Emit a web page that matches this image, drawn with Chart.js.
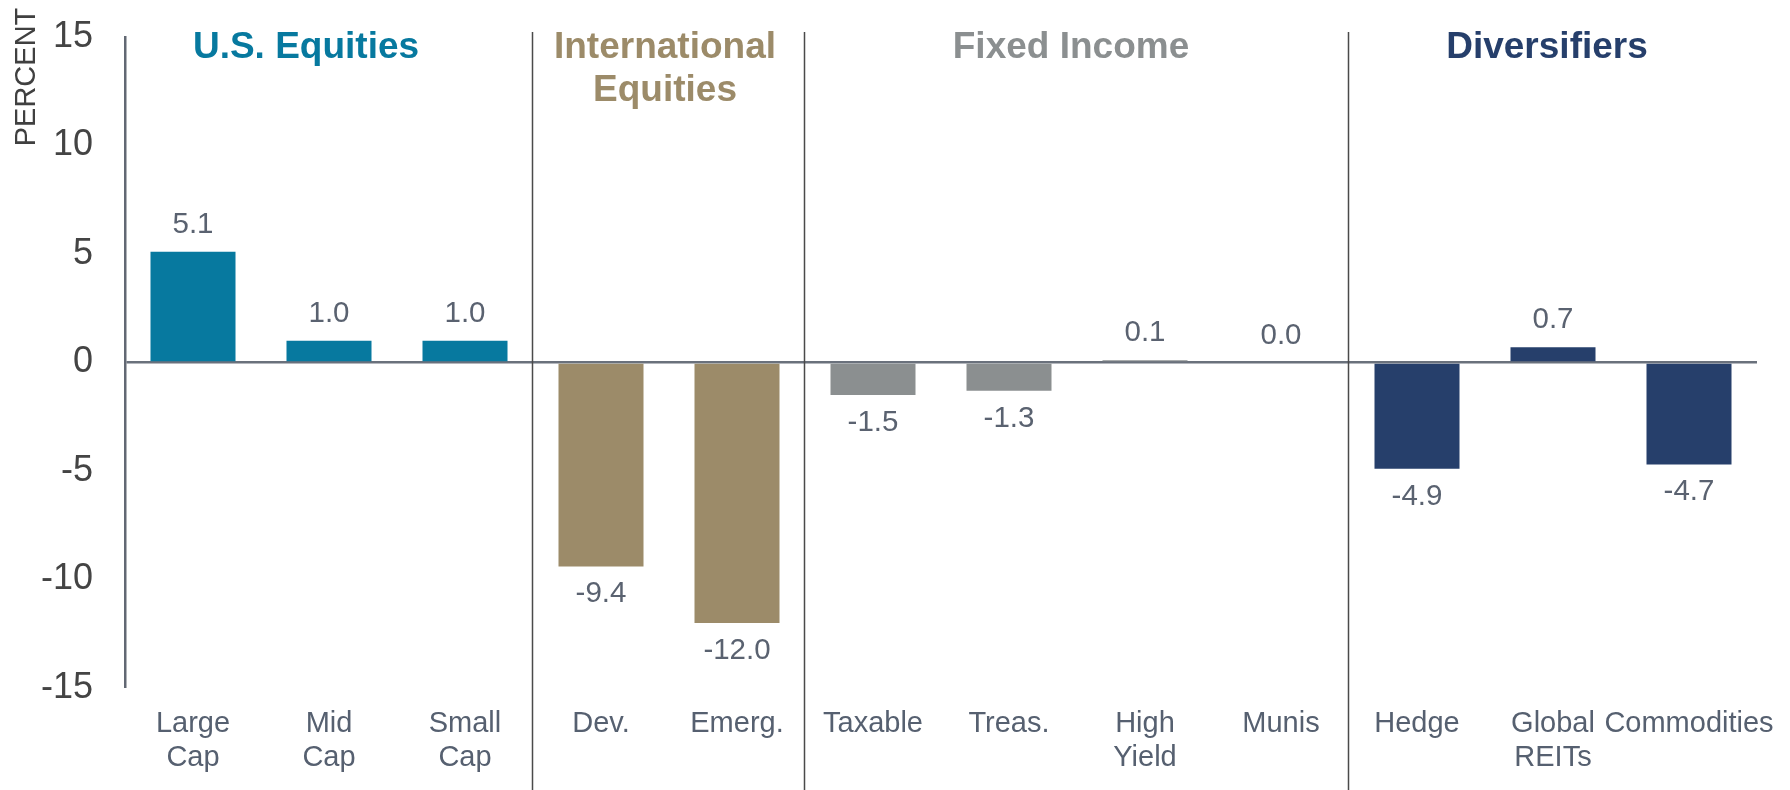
<!DOCTYPE html>
<html>
<head>
<meta charset="utf-8">
<script src="https://cdn.jsdelivr.net/npm/chart.js@4/dist/chart.umd.min.js"></script>
<style>
  html, body { margin: 0; padding: 0; background: #fff; }
  #wrap { width: 1790px; height: 790px; position: relative; }
</style>
</head>
<body>
<div id="wrap"><canvas id="chart"></canvas></div>
<script>
// categories and returns, in plotting order
const categories = [['Large', 'Cap'], ['Mid', 'Cap'], ['Small', 'Cap'], 'Dev.', 'Emerg.',
  'Taxable', 'Treas.', ['High', 'Yield'], 'Munis', 'Hedge', ['Global', 'REITs'], 'Commodities'];
const returns = [5.1, 1.0, 1.0, -9.4, -12.0, -1.5, -1.3, 0.1, 0.0, -4.9, 0.7, -4.7];

// asset class groups (how many categories each covers)
const groupNames = [['U.S. Equities'], ['International', 'Equities'], ['Fixed Income'], ['Diversifiers']];
const groupSizes = [3, 2, 4, 3];
const groupColors = ['#07799f', '#9c8b69', '#8b8f90', '#263f6b'];

const yMin = -15, yMax = 15, yStep = 5;

const FONT = "'Liberation Sans', Arial, sans-serif";
// small horizontal shift of each heading from its group centre
const titleNudge = [-23, -4, -6, -6];

// one colour per bar, taken from its group
const barColors = [];
groupSizes.forEach((n, g) => { for (let i = 0; i < n; i++) barColors.push(groupColors[g]); });

const decorations = {
  id: 'decorations',
  afterDatasetsDraw(chart) {
    const { ctx } = chart;
    const x = chart.scales.x;
    const y = chart.scales.y;
    const meta = chart.getDatasetMeta(0);

    // value labels above / below each bar
    ctx.save();
    ctx.font = `29.5px ${FONT}`;
    ctx.fillStyle = '#5a6270';
    ctx.textAlign = 'center';
    ctx.textBaseline = 'alphabetic';
    meta.data.forEach((bar, i) => {
      const v = returns[i];
      const end = y.getPixelForValue(v);
      ctx.fillText(v.toFixed(1), bar.x, v >= 0 ? end - 19 : end + 36);
    });
    ctx.restore();

    // group separators and headings
    ctx.save();
    let start = 0;
    groupSizes.forEach((n, g) => {
      const first = x.getPixelForValue(start);
      const last = x.getPixelForValue(start + n - 1);
      const cx = (first + last) / 2 + titleNudge[g];

      ctx.font = `bold 37px ${FONT}`;
      ctx.fillStyle = groupColors[g];
      ctx.textAlign = 'center';
      ctx.textBaseline = 'alphabetic';
      groupNames[g].forEach((line, k) => ctx.fillText(line, cx, 58 + k * 43));

      if (g > 0) {
        const sx = Math.round((x.getPixelForValue(start - 1) + first) / 2) - 0.5;
        ctx.strokeStyle = '#4a4a4a';
        ctx.lineWidth = 1.5;
        ctx.beginPath();
        ctx.moveTo(sx, 32);
        ctx.lineTo(sx, chart.height);
        ctx.stroke();
      }
      start += n;
    });

    // rotated axis caption
    ctx.translate(27, 77);
    ctx.rotate(-Math.PI / 2);
    ctx.font = `29px ${FONT}`;
    ctx.fillStyle = '#404040';
    ctx.textAlign = 'center';
    ctx.textBaseline = 'middle';
    ctx.fillText('PERCENT', 0, 0);
    ctx.restore();
  }
};

new Chart(document.getElementById('chart'), {
  type: 'bar',
  data: {
    labels: categories,
    datasets: [{
      data: returns,
      backgroundColor: barColors,
      borderWidth: 0,
      categoryPercentage: 1,
      barPercentage: 0.625
    }]
  },
  options: {
    responsive: true,
    maintainAspectRatio: false,
    animation: false,
    layout: { padding: { top: 37, right: 33, left: 0, bottom: 0 } },
    plugins: {
      legend: { display: false },
      tooltip: { enabled: false }
    },
    scales: {
      x: {
        grid: { display: false, drawTicks: false },
        border: { display: false },
        ticks: {
          color: '#566070',
          font: { family: FONT, size: 29, lineHeight: 1.17 },
          padding: 19,
          maxRotation: 0,
          autoSkip: false
        },
        afterFit(scale) {
          scale.height = 102;
          scale.paddingLeft = 0;
          scale.paddingRight = 0;
        }
      },
      y: {
        min: yMin,
        max: yMax,
        border: { display: true, color: '#626873', width: 2.5 },
        grid: {
          drawTicks: false,
          color: ctx => (ctx.tick && ctx.tick.value === 0 ? '#6a717c' : 'transparent'),
          lineWidth: ctx => (ctx.tick && ctx.tick.value === 0 ? 2.5 : 0)
        },
        ticks: {
          stepSize: yStep,
          color: '#444444',
          font: { family: FONT, size: 36 },
          padding: 32
        },
        afterFit(scale) {
          scale.width = 125;
          scale.paddingTop = 0;
          scale.paddingBottom = 0;
        }
      }
    }
  },
  plugins: [decorations]
});
</script>
</body>
</html>
